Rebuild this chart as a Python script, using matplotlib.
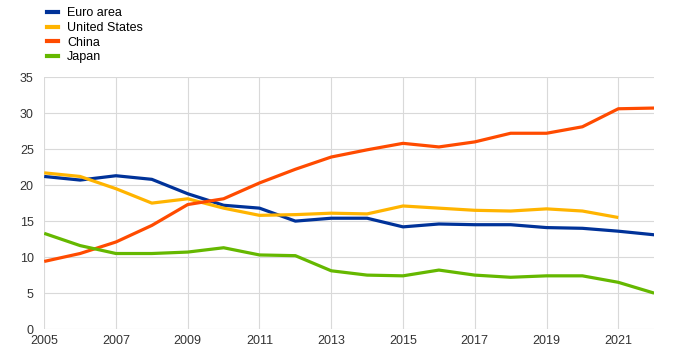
import matplotlib.pyplot as plt
from matplotlib.lines import Line2D

plt.rcParams['font.family'] = ['Liberation Sans', 'DejaVu Sans']

years = list(range(2005, 2023))
euro_area = [21.2, 20.7, 21.3, 20.8, 18.8, 17.2, 16.8, 15.0, 15.4, 15.4,
             14.2, 14.6, 14.5, 14.5, 14.1, 14.0, 13.6, 13.1]
united_states = [21.7, 21.2, 19.5, 17.5, 18.1, 16.8, 15.8, 15.9, 16.1, 16.0,
                 17.1, 16.8, 16.5, 16.4, 16.7, 16.4, 15.5]
china = [9.4, 10.5, 12.1, 14.4, 17.3, 18.1, 20.3, 22.2, 23.9, 24.9,
         25.8, 25.3, 26.0, 27.2, 27.2, 28.1, 30.6, 30.7]
japan = [13.3, 11.6, 10.5, 10.5, 10.7, 11.3, 10.3, 10.2, 8.1, 7.5,
         7.4, 8.2, 7.5, 7.2, 7.4, 7.4, 6.5, 5.0]

labels = ['Euro area', 'United States', 'China', 'Japan']
colors = ['#003299', '#FFB400', '#FF4B00', '#65B800']
series = [euro_area, united_states, china, japan]

fig = plt.figure(figsize=(6.8, 3.52), dpi=100)
ax = fig.add_axes([0.065, 0.065, 0.897, 0.716])

for vals, col in zip(series, colors):
    ax.plot(years[:len(vals)], vals, color=col, linewidth=2.3, solid_capstyle='butt')

ax.set_xlim(2005, 2022)
ax.set_ylim(0, 35)
ax.set_xticks(range(2005, 2022, 2))
ax.set_yticks(range(0, 36, 5))
ax.grid(True, color='#d9d9d9', linewidth=0.8)
ax.set_axisbelow(True)
for s in ax.spines.values():
    s.set_visible(False)
ax.tick_params(length=0, labelsize=9, colors='#333333')
ax.tick_params(axis='x', pad=4)
ax.tick_params(axis='y', pad=7.5)

handles = [Line2D([0], [0], color=c, linewidth=3) for c in colors]
fig.legend(handles, labels, loc='upper left', bbox_to_anchor=(0.058, 1.0),
           frameon=False, fontsize=9, handlelength=0.9, handletextpad=0.7,
           labelspacing=0.2, borderaxespad=0.2)

fig.savefig('out.png', dpi=100)
